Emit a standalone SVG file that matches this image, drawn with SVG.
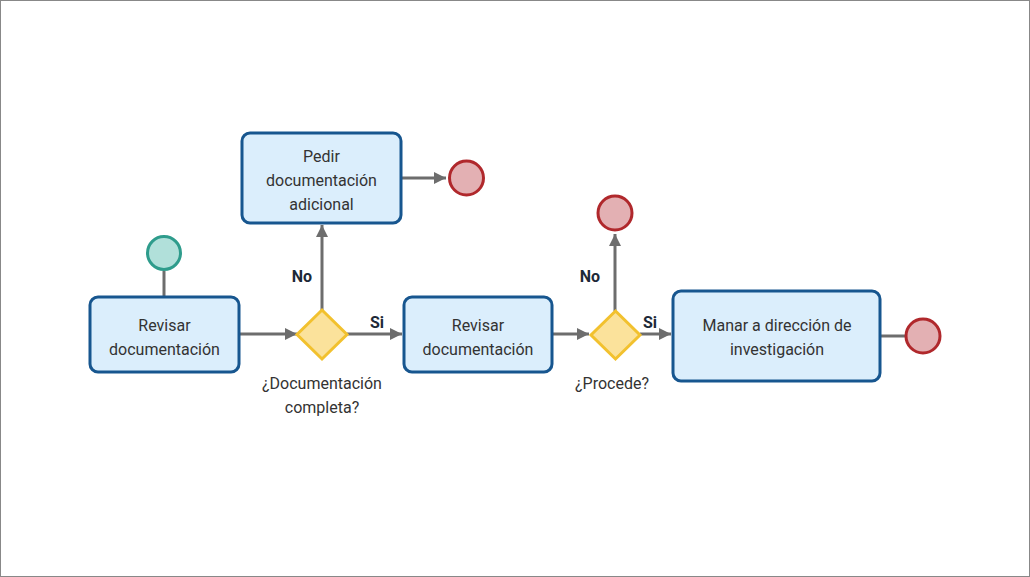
<svg xmlns="http://www.w3.org/2000/svg" width="1030" height="577" viewBox="0 0 1030 577">
<defs>
<marker id="arr" markerWidth="12" markerHeight="12" refX="10" refY="5" orient="auto" markerUnits="userSpaceOnUse" viewBox="0 0 10 10">
<path d="M0,0 L10,5 L0,10 z" fill="#6d6d6d"/>
</marker>
<style>
.task{fill:#dbeefc;stroke:#17568f;stroke-width:3}
.start{fill:#b1e0da;stroke:#2e9c8c;stroke-width:3}
.end{fill:#e3b0b3;stroke:#b0282c;stroke-width:3}
.gw{fill:#fbe29b;stroke:#f2c12e;stroke-width:3}
.c{fill:none;stroke:#6d6d6d;stroke-width:3}
.t{font-family:Roboto,"Liberation Sans",sans-serif;font-size:16px;fill:#333;text-anchor:middle}
.l{font-family:Roboto,"Liberation Sans",sans-serif;font-size:16px;font-weight:bold;fill:#1d2938;text-anchor:middle}
</style>
</defs>
<rect x="0.5" y="0.5" width="1029" height="576" fill="#fff" stroke="#888" stroke-width="1"/>
<g id="connectors">
<line class="c" x1="164" y1="271" x2="164" y2="297"/>
<line class="c" x1="240" y1="334" x2="297" y2="334" marker-end="url(#arr)"/>
<line class="c" x1="322" y1="310" x2="322" y2="225" marker-end="url(#arr)"/>
<line class="c" x1="402" y1="178" x2="446" y2="178" marker-end="url(#arr)"/>
<line class="c" x1="347" y1="334" x2="402" y2="334" marker-end="url(#arr)"/>
<line class="c" x1="553" y1="334" x2="589" y2="334" marker-end="url(#arr)"/>
<line class="c" x1="615" y1="311" x2="615" y2="234" marker-end="url(#arr)"/>
<line class="c" x1="640" y1="334" x2="671" y2="334" marker-end="url(#arr)"/>
<line class="c" x1="881" y1="336" x2="905" y2="336"/>
<text class="l" x="302" y="282">No</text>
<text class="l" x="377" y="328">Si</text>
<text class="l" x="590" y="282">No</text>
<text class="l" x="650" y="328">Si</text>
</g>
<g id="start"><circle class="start" cx="164" cy="253" r="16.5"/></g>
<g id="task1"><rect class="task" x="90" y="297" width="149" height="75" rx="8"/>
<text class="t" x="164.5" y="331">Revisar</text><text class="t" x="164.5" y="355">documentación</text></g>
<g id="gw1"><polygon class="gw" points="322,310 347,334.5 322,359 297,334.5"/>
<text class="t" x="322" y="389">¿Documentación</text><text class="t" x="322" y="413">completa?</text></g>
<g id="task2"><rect class="task" x="242" y="133" width="159" height="90" rx="8"/>
<text class="t" x="321.5" y="162">Pedir</text><text class="t" x="321.5" y="186">documentación</text><text class="t" x="321.5" y="210">adicional</text></g>
<g id="end1"><circle class="end" cx="466.5" cy="178" r="17"/></g>
<g id="task3"><rect class="task" x="404" y="297" width="148" height="75" rx="8"/>
<text class="t" x="478" y="331">Revisar</text><text class="t" x="478" y="355">documentación</text></g>
<g id="gw2"><polygon class="gw" points="615.5,311 640,335 615.5,359 591,335"/>
<text class="t" x="612" y="389">¿Procede?</text></g>
<g id="end2"><circle class="end" cx="615" cy="213" r="17"/></g>
<g id="task4"><rect class="task" x="673" y="291" width="207" height="90" rx="8"/>
<text class="t" x="777" y="331">Manar a dirección de</text><text class="t" x="777" y="355">investigación</text></g>
<g id="end3"><circle class="end" cx="923" cy="336" r="17"/></g>
</svg>
